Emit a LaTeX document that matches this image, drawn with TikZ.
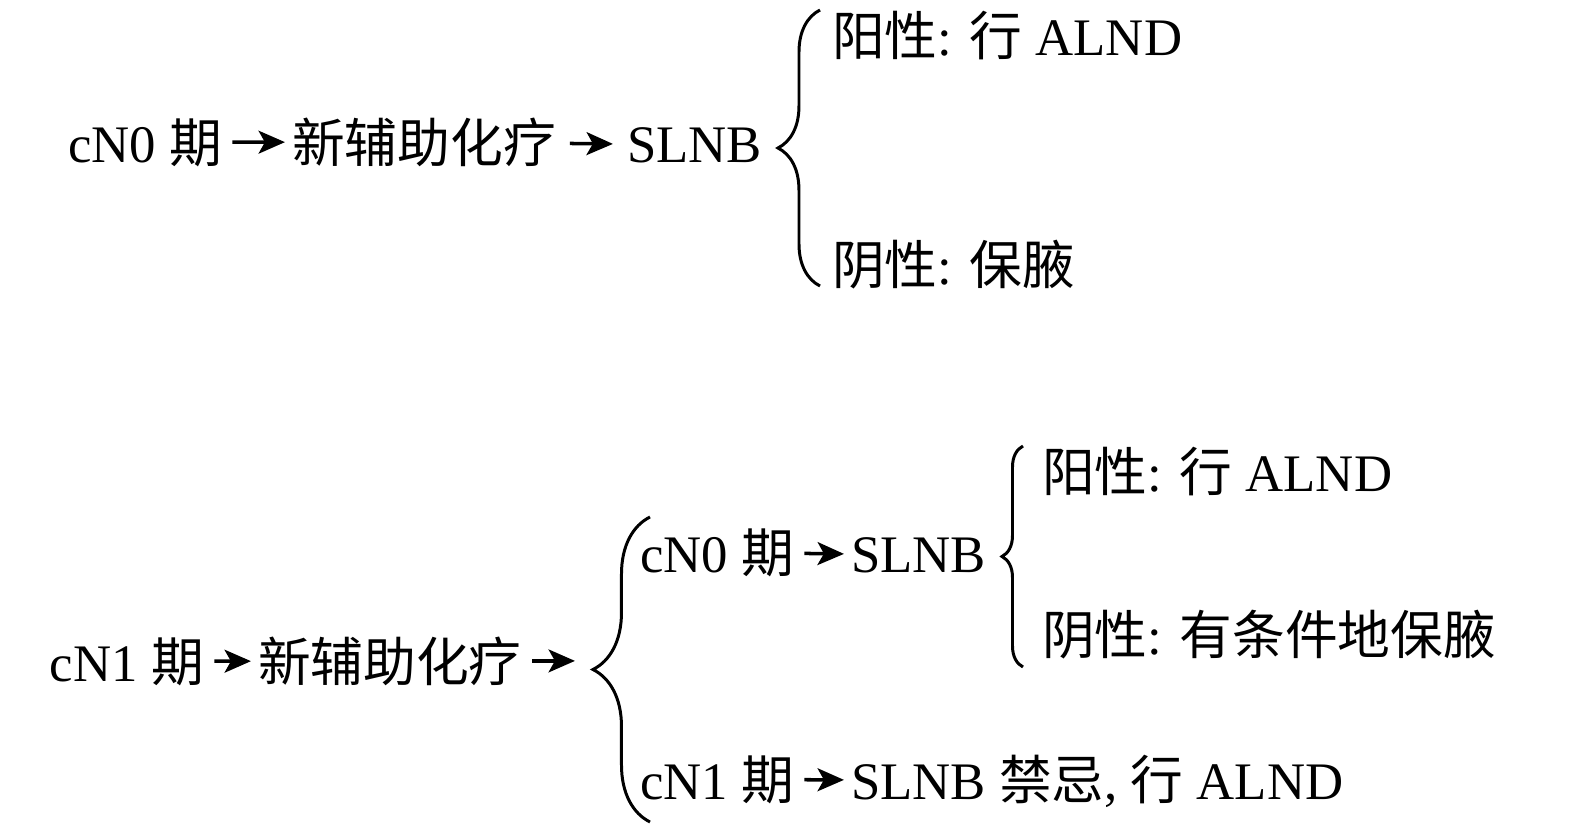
\documentclass[tikz,border=0pt]{standalone}
\usepackage{fontspec}
\setmainfont{Liberation Serif}
\newfontfamily\cjk{Noto Sans CJK SC}
\newcommand{\zh}[1]{{\cjk #1}}
\usetikzlibrary{arrows.meta,decorations.pathreplacing}
\begin{document}
\begin{tikzpicture}[x=0.01cm,y=-0.01cm,
  txt/.style={inner sep=0pt,outer sep=0pt,anchor=base west,font=\fontsize{15}{18}\selectfont},
  arr/.style={line width=1pt,-{Stealth[length=7.5pt,width=6.5pt,inset=1.8pt]},shorten <=3pt,shorten >=2pt},
  brc/.style={line width=0.85pt,decorate}]
\useasboundingbox (0,0) rectangle (1575,827);
% top flow
\node[txt] (a1) at (68,162) {cN0 \zh{期}};
\node[txt] (a2) at (292,162) {\zh{新辅助化疗}};
\node[txt] (a3) at (627,162) {SLNB};
\node[txt] (a4) at (832,55) {\zh{阳性}: \zh{行} ALND};
\node[txt] (a5) at (832,284) {\zh{阴性}: \zh{保腋}};
\draw[arr] (a1) -- (a2);
\draw[arr,shorten <=4pt,shorten >=4pt] (a2) -- (a3);
\coordinate (p1) at (820,286);
\coordinate (q1) at (820,10);
\draw[brc,decoration={brace,amplitude=0.42cm}] (p1) -- (q1);
% bottom flow
\node[txt] (b1) at (50,681) {cN1 \zh{期}};
\node[txt] (b2) at (258,681) {\zh{新辅助化疗}};
\coordinate (bx) at (582,0);
\coordinate (bt) at (b2.east -| bx);
\draw[arr] (b1) -- (b2);
\draw[arr] (b2) -- (bt);
\coordinate (p2) at (650,822);
\coordinate (q2) at (650,517);
\draw[brc,decoration={brace,amplitude=0.57cm}] (p2) -- (q2);
\node[txt] (b4) at (640,572) {cN0 \zh{期}};
\node[txt] (b5) at (851,572) {SLNB};
\draw[arr] (b4) -- (b5);
\coordinate (p3) at (1023,667);
\coordinate (q3) at (1023,446);
\draw[brc,decoration={brace,amplitude=0.21cm}] (p3) -- (q3);
\node[txt] (b6) at (1042,491) {\zh{阳性}: \zh{行} ALND};
\node[txt] (b7) at (1042,654) {\zh{阴性}: \zh{有条件地保腋}};
\node[txt] (b8) at (640,799) {cN1 \zh{期}};
\node[txt] (b9) at (851,799) {SLNB \zh{禁忌}, \zh{行} ALND};
\draw[arr] (b8) -- (b9);
\end{tikzpicture}
\end{document}
